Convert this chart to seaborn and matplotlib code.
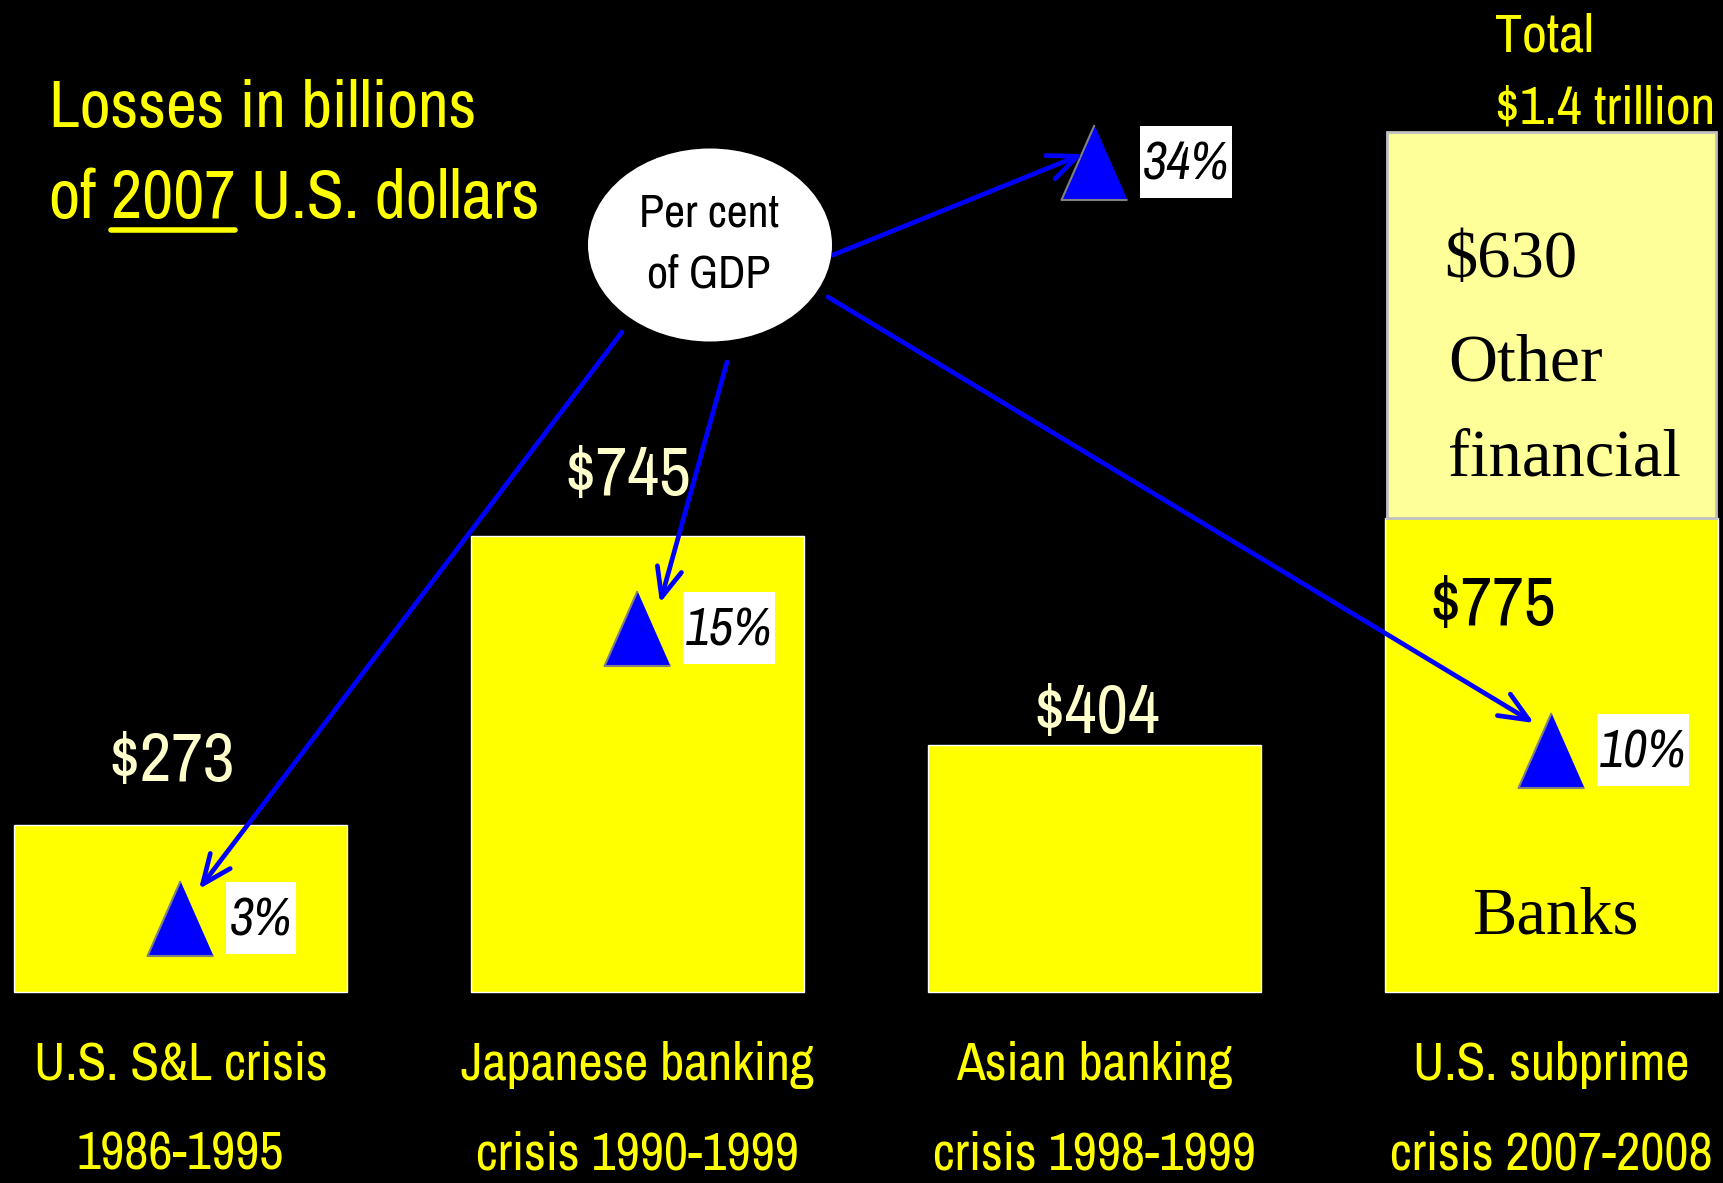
import numpy as np
import pandas as pd
import seaborn as sns
import matplotlib.pyplot as plt
from matplotlib import font_manager
from matplotlib.patches import Ellipse, Rectangle

# Data
crises = ['U.S. S&L crisis\n1986-1995', 'Japanese banking\ncrisis 1990-1999',
          'Asian banking\ncrisis 1998-1999', 'U.S. subprime\ncrisis 2007-2008']
losses = [273, 745, 404, 775]          # banks (billions of 2007 US$)
other_financial = [0, 0, 0, 630]       # only for subprime
gdp_pct = [3, 15, 34, 10]
value_labels = ['$273', '$745', '$404', '$775']

# font picking
names = sorted({f.name for f in font_manager.fontManager.ttflist})
narrow = next((n for n in ['Archivo Narrow', 'Liberation Sans Narrow', 'Roboto Condensed']
               if n in names), 'Liberation Sans')
serif = 'Liberation Serif'

sns.set_style('dark')
plt.rcParams['font.family'] = [narrow, 'DejaVu Sans']

W, H = 1724, 1183
fig = plt.figure(figsize=(W / 100, H / 100), dpi=100, facecolor='black')
ax = fig.add_axes([0, 0, 1, 1])
ax.set_facecolor('black')

# pixel layout helpers
k = 0.612      # px per billion
base = 992     # px of zero line
x0, step = 180.5, 457


def P(x, y):
    return (x / W, 1 - y / H)


df = pd.DataFrame({'crisis': crises, 'loss': losses})
sns.barplot(data=df, x='crisis', y='loss', color='#FFFF00', saturation=1,
            width=0.727, ax=ax)
ax.bar(3, other_financial[3], bottom=losses[3], width=0.72, color='#FFFF99',
       edgecolor='#C0C0C0', linewidth=2)

ax.set_xlim(-x0 / step, (W - x0) / step)
ax.set_ylim(-(H - base) / k, base / k)
ax.axis('off')

# triangles for % of GDP
tri_py = [918, 628, 162, 750]
tri_y = [(base - p) / k for p in tri_py]
tri = [(0, 1), (-0.88, -1), (0.88, -1)]
sns.scatterplot(x=[0, 1, 2, 3], y=tri_y, marker=tri, s=2916, color='#0000FF',
                edgecolor='#808080', linewidth=1.5, ax=ax, zorder=5, legend=False)

# % labels in white boxes
for i, (p, py) in enumerate(zip(gdp_pct, tri_py)):
    cx = x0 + step * i
    bw = 70 if p < 10 else 92
    bx = cx + 46
    fig.patches.append(Rectangle(P(bx, py + 36), bw / W, 72 / H, transform=fig.transFigure,
                                 facecolor='white', edgecolor='none', zorder=6))
    fig.text(*P(bx + bw / 2, py + 2), f'{p}%', fontsize=38, style='italic', color='black',
             ha='center', va='center', zorder=7)

# value labels above bars
lab_pos = [(172, 781), (628, 495), (1097, 733)]
for (x, y), t in zip(lab_pos, value_labels[:3]):
    fig.text(*P(x, y), t, fontsize=50, color='#FFFFCC', ha='center', va='baseline')
fig.text(*P(1429, 625), value_labels[3], fontsize=50, color='black', ha='left', va='baseline')

# stacked bar text
fig.text(*P(1444, 277), '$630', fontsize=48, family=serif, color='black', va='baseline')
fig.text(*P(1448, 380), 'Other', fontsize=49, family=serif, color='black', va='baseline')
fig.text(*P(1448, 475), 'financial', fontsize=48, family=serif, color='black', va='baseline')
fig.text(*P(1555, 933), 'Banks', fontsize=48, family=serif, color='black', ha='center', va='baseline')
fig.text(*P(1495, 52), 'Total', fontsize=39, color='#FFFF00', va='baseline')
fig.text(*P(1495, 123), '$1.4 trillion', fontsize=39, color='#FFFF00', va='baseline')

# category labels
for i, c in enumerate(crises):
    l1, l2 = c.split('\n')
    cx = x0 + step * i
    fig.text(*P(cx, 1080), l1, fontsize=38, color='#FFFF00', ha='center', va='baseline')
    fig.text(*P(cx, 1170), l2, fontsize=38, color='#FFFF00', ha='center', va='baseline')

# headline text
fig.text(*P(49, 127), 'Losses in billions', fontsize=48.5, color='#FFFF00', va='baseline')
t2 = fig.text(*P(49, 218), 'of 2007 U.S. dollars', fontsize=49, color='#FFFF00', va='baseline')
fig.canvas.draw()
r = fig.canvas.get_renderer()
ta = fig.text(*P(49, 218), 'of ', fontsize=49, va='baseline', alpha=0)
tb = fig.text(*P(49, 218), 'of 2007', fontsize=49, va='baseline', alpha=0)
xa = ta.get_window_extent(r).x1
xb = tb.get_window_extent(r).x1
ta.remove()
tb.remove()
fig.add_artist(plt.Line2D([xa / W, xb / W], [1 - 230 / H] * 2, transform=fig.transFigure,
                          color='#FFFF00', linewidth=4))

# ellipse
fig.patches.append(Ellipse(P(710, 245), 244 / W, 193 / H, transform=fig.transFigure,
                           facecolor='white', edgecolor='none', zorder=3))
fig.text(*P(709, 227), 'Per cent', fontsize=33, color='black', ha='center', va='baseline', zorder=4)
fig.text(*P(709, 287), 'of GDP', fontsize=33, color='black', ha='center', va='baseline', zorder=4)

# arrows
arrows = [((622, 332), (199, 889)), ((727, 362), (660, 603)),
          ((833, 255), (1083, 154)), ((828, 297), (1534, 723))]
for s, e in arrows:
    ax.annotate('', xy=P(*e), xytext=P(*s), xycoords='figure fraction',
                textcoords='figure fraction', zorder=8,
                arrowprops=dict(arrowstyle='->,head_length=0.7,head_width=0.3',
                                color='#0000FF', lw=3.4, mutation_scale=30,
                                shrinkA=0, shrinkB=0))

fig.savefig('out.png', dpi=100, facecolor='black')
